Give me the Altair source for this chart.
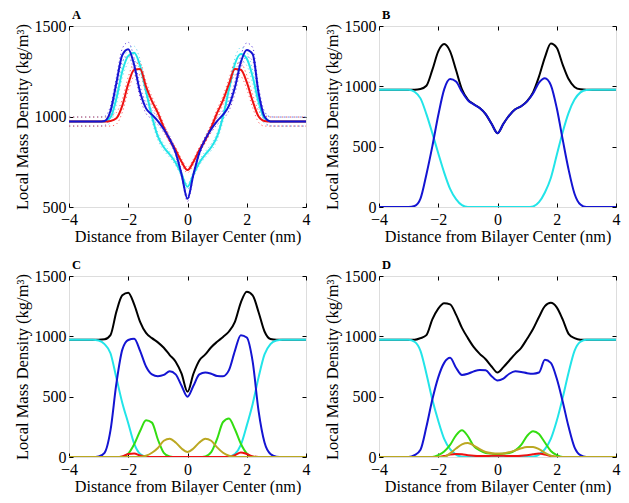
import altair as alt
import pandas as pd

FONT = "Liberation Serif"
W, H = 237, 181

# Distance from bilayer centre (nm)
X = [-4.0, -3.8, -3.6, -3.4, -3.2, -3.0, -2.8, -2.6, -2.4, -2.2, -2.0, -1.8, -1.6, -1.4,
     -1.2, -1.0, -0.8, -0.6, -0.4, -0.2, 0.0, 0.2, 0.4, 0.6, 0.8, 1.0, 1.2, 1.4, 1.6, 1.8,
     2.0, 2.2, 2.4, 2.6, 2.8, 3.0, 3.2, 3.4, 3.6, 3.8, 4.0]

# ---- Panel A ----
A_blue = [972, 972, 972, 972, 972, 972, 975, 1030, 1185, 1340, 1372, 1285, 1135, 1045, 1010, 975, 930, 875, 800, 680,
          545,
          680, 800, 875, 930, 975, 1010, 1060, 1160, 1300, 1368, 1345, 1130, 1000, 973, 972, 972, 972, 972, 972, 972]
A_cyan = [972, 972, 972, 972, 972, 972, 973, 995, 1100, 1250, 1335, 1352, 1280, 1140, 1000, 890, 830, 790, 745, 680,
          612,
          680, 745, 790, 830, 890, 1000, 1150, 1290, 1345, 1320, 1220, 1080, 990, 973, 972, 972, 972, 972, 972, 972]
A_red = [972, 972, 972, 972, 972, 972, 972, 975, 990, 1060, 1180, 1258, 1262, 1165, 1085, 1020, 940, 870, 815, 750,
         704,
         750, 815, 870, 940, 1020, 1090, 1180, 1262, 1258, 1190, 1085, 1000, 975, 972, 972, 972, 972, 972, 972, 972]
# half-width of the dotted spread lines around each curve in panel A
A_spread = [25, 25, 25, 25, 25, 25, 25, 28, 32, 36, 38, 36, 32, 28, 24, 20, 18, 16, 15, 15,
            15,
            15, 15, 16, 18, 20, 24, 28, 32, 36, 38, 36, 32, 28, 25, 25, 25, 25, 25, 25, 25]

# ---- Panel B ----
B_black = [972, 972, 972, 972, 972, 972, 972, 978, 1005, 1136, 1290, 1350, 1290, 1135, 975, 890, 852, 820, 770, 690,
           612,
           690, 760, 810, 835, 878, 950, 1080, 1240, 1355, 1320, 1180, 1060, 995, 975, 972, 972, 972, 972, 972, 972]
B_blue = [0, 0, 0, 0, 0, 0, 8, 70, 270, 502, 760, 975, 1060, 1040, 955, 885, 850, 820, 770, 690,
          612,
          690, 760, 810, 835, 875, 940, 1030, 1068, 1010, 820, 560, 310, 110, 20, 0, 0, 0, 0, 0, 0]
B_cyan = [972, 972, 972, 972, 972, 972, 955, 900, 770, 612, 445, 285, 150, 65, 15, 0, 0, 0, 0, 0,
          0,
          0, 0, 0, 0, 0, 5, 40, 120, 240, 430, 620, 780, 890, 950, 970, 972, 972, 972, 972, 972]

# ---- Panel C ----
C_black = [972, 972, 972, 972, 972, 972, 975, 1010, 1205, 1340, 1362, 1265, 1120, 1028, 985, 950, 905, 845, 790, 690,
           540,
           690, 800, 850, 910, 955, 995, 1040, 1120, 1280, 1370, 1340, 1200, 1040, 978, 972, 972, 972, 972, 972, 972]
C_blue = [0, 0, 0, 0, 0, 5, 35, 220, 610, 890, 970, 980, 880, 750, 685, 670, 680, 710, 685, 590,
          500,
          590, 685, 700, 690, 672, 670, 720, 880, 1010, 990, 790, 380, 120, 25, 3, 0, 0, 0, 0, 0]
C_cyan = [972, 972, 972, 972, 972, 965, 935, 860, 655, 448, 280, 110, 25, 3, 0, 0, 0, 0, 0, 0,
          0,
          0, 0, 0, 0, 0, 0, 3, 25, 100, 260, 440, 660, 850, 935, 965, 972, 972, 972, 972, 972]
C_green = [0, 0, 0, 0, 0, 0, 0, 0, 0, 3, 28, 105, 215, 305, 285, 145, 35, 5, 0, 0,
           0,
           0, 0, 5, 40, 150, 290, 320, 230, 110, 30, 3, 0, 0, 0, 0, 0, 0, 0, 0, 0]
C_olive = [0, 0, 0, 0, 0, 0, 0, 0, 0, 0, 0, 0, 0, 10, 35, 75, 135, 152, 120, 70,
           42,
           70, 120, 152, 135, 80, 35, 10, 0, 0, 0, 0, 0, 0, 0, 0, 0, 0, 0, 0, 0]
C_red = [0, 0, 0, 0, 0, 0, 0, 0, 0, 5, 25, 30, 12, 3, 0, 0, 0, 0, 0, 0,
         0,
         0, 0, 0, 0, 0, 0, 3, 15, 38, 25, 5, 0, 0, 0, 0, 0, 0, 0, 0, 0]

# ---- Panel D ----
D_black = [972, 972, 972, 972, 972, 972, 972, 985, 1010, 1140, 1230, 1275, 1265, 1180, 1070, 985, 910, 855, 810, 750,
           700,
           745, 800, 855, 905, 980, 1060, 1160, 1250, 1278, 1240, 1140, 1020, 985, 972, 972, 972, 972, 972, 972, 972]
D_blue = [0, 0, 0, 0, 0, 0, 15, 60, 250, 476, 660, 780, 822, 740, 680, 690, 710, 722, 718, 670,
          634,
          650, 690, 710, 705, 695, 690, 700, 805, 780, 650, 460, 250, 80, 15, 0, 0, 0, 0, 0, 0]
D_cyan = [972, 972, 972, 972, 972, 972, 955, 880, 690, 476, 300, 150, 65, 20, 3, 0, 0, 0, 0, 0,
          0,
          0, 0, 0, 0, 0, 3, 20, 65, 150, 300, 490, 700, 880, 955, 972, 972, 972, 972, 972, 972]
D_green = [0, 0, 0, 0, 0, 0, 0, 0, 0, 0, 15, 45, 100, 180, 222, 172, 90, 55, 33, 28,
           25,
           28, 33, 55, 100, 175, 213, 190, 120, 50, 15, 0, 0, 0, 0, 0, 0, 0, 0, 0, 0]
D_olive = [0, 0, 0, 0, 0, 0, 0, 0, 0, 0, 0, 0, 30, 70, 105, 116, 95, 65, 42, 32,
           28,
           30, 40, 55, 72, 82, 83, 65, 35, 10, 0, 0, 0, 0, 0, 0, 0, 0, 0, 0, 0]
D_red = [0, 0, 0, 0, 0, 0, 0, 0, 0, 0, 0, 8, 20, 25, 22, 15, 10, 8, 8, 10,
         10,
         10, 8, 8, 10, 15, 22, 28, 20, 8, 0, 0, 0, 0, 0, 0, 0, 0, 0, 0, 0]

BLACK = "#000000"
BLUE = "#1414d2"
CYAN = "#22e4e8"
GREEN = "#33dd11"
OLIVE = "#bba822"
RED = "#ee1111"


def make_panel(letter, series, ymin, yticks):
    xaxis = alt.Axis(values=[-4, -2, 0, 2, 4], title="Distance from Bilayer Center (nm)", format="d",
                     grid=True, gridDash=[4, H - 8, 4, 100], gridColor="black", gridOpacity=1,
                     gridWidth=1, ticks=False, domain=False, labelFont=FONT, labelFontSize=16,
                     labelColor="black", titleFont=FONT, titleFontSize=16.2, titleFontWeight="normal",
                     titleColor="black", labelPadding=4, titlePadding=1, labelFlush=False)
    yaxis = alt.Axis(values=yticks, title="Local Mass Density (kg/m³)", format="d",
                     grid=True, gridDash=[4, W - 8, 4, 100], gridColor="black", gridOpacity=1,
                     gridWidth=1, ticks=False, domain=False, labelFont=FONT, labelFontSize=16,
                     labelColor="black", titleFont=FONT, titleFontSize=16.5, titleFontWeight="normal",
                     titleColor="black", labelPadding=3, titlePadding=4, labelFlush=False)
    layers = []
    for vals, color, dash, width in series:
        df = pd.DataFrame({"x": X, "y": vals})
        mk = dict(interpolate="monotone", color=color, strokeWidth=width, clip=True)
        if dash:
            mk["strokeDash"] = dash
        layers.append(
            alt.Chart(df).mark_line(**mk).encode(
                x=alt.X("x:Q", scale=alt.Scale(domain=[-4, 4], nice=False, zero=False), axis=xaxis),
                y=alt.Y("y:Q", scale=alt.Scale(domain=[ymin, 1500], nice=False, zero=False), axis=yaxis),
            )
        )
    return alt.layer(*layers).properties(
        width=W, height=H,
        title=alt.TitleParams(letter, anchor="start", frame="group", font=FONT, fontSize=12.5,
                              fontWeight="bold", color="black", offset=-3, dx=3),
    )


def band(vals, spread, sign):
    return [v + sign * s for v, s in zip(vals, spread)]


dot = [1.2, 2.8]
panelA = make_panel("A", [
    (band(A_blue, A_spread, 1), "#6a4ae0", dot, 1),
    (band(A_blue, A_spread, -1), "#8a4ad0", dot, 1),
    (band(A_cyan, A_spread, 1), "#6fdcf0", dot, 1),
    (band(A_cyan, A_spread, -1), "#6fdcf0", dot, 1),
    (band(A_red, A_spread, 1), "#ff6060", dot, 1),
    (band(A_red, A_spread, -1), "#ff6060", dot, 1),
    (A_cyan, CYAN, None, 2),
    (A_red, RED, None, 2),
    (A_blue, BLUE, None, 2),
], 500, [500, 1000, 1500])

panelB = make_panel("B", [
    (B_black, BLACK, None, 2),
    (B_cyan, CYAN, None, 2),
    (B_blue, BLUE, None, 2),
], 0, [0, 500, 1000, 1500])

panelC = make_panel("C", [
    (C_black, BLACK, None, 2),
    (C_cyan, CYAN, None, 2),
    (C_blue, BLUE, None, 2),
    (C_green, GREEN, None, 2),
    (C_red, RED, None, 2),
    (C_olive, OLIVE, None, 2),
], 0, [0, 500, 1000, 1500])

panelD = make_panel("D", [
    (D_black, BLACK, None, 2),
    (D_cyan, CYAN, None, 2),
    (D_blue, BLUE, None, 2),
    (D_green, GREEN, None, 2),
    (D_red, RED, None, 2),
    (D_olive, OLIVE, None, 2),
], 0, [0, 500, 1000, 1500])

chart = alt.vconcat(
    alt.hconcat(panelA, panelB, spacing=12),
    alt.hconcat(panelC, panelD, spacing=12),
    spacing=13,
).properties(
    padding={"left": 5, "top": 0, "right": 0, "bottom": 0}
).configure_view(stroke="black", strokeWidth=1).configure(background="white")

chart.save("out.html", embed_options={"renderer": "svg", "actions": False})
